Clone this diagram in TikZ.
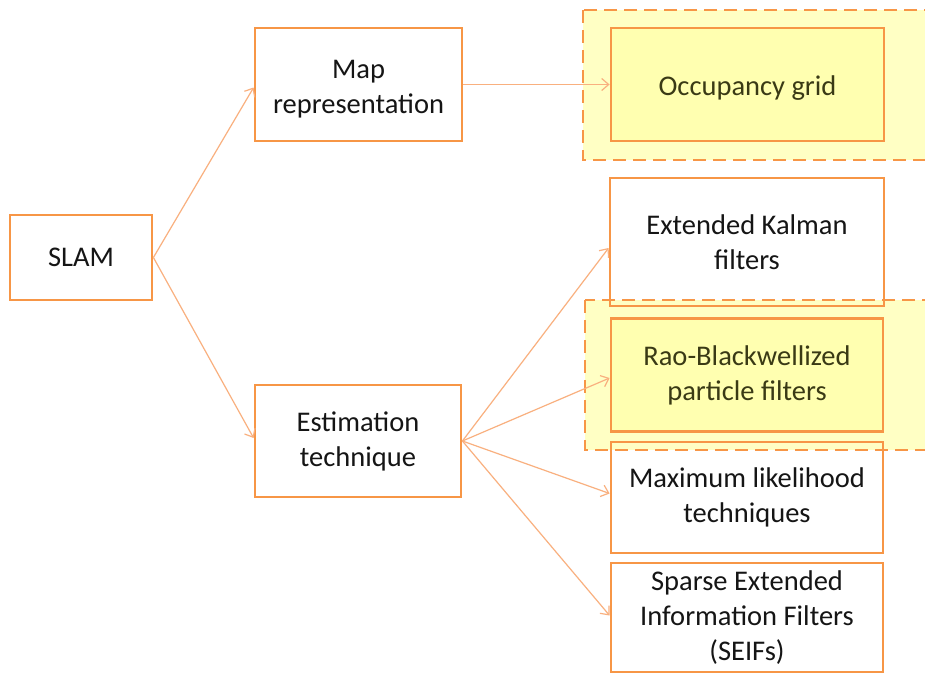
\documentclass[tikz,border=0pt]{standalone}
\usepackage{fontspec}
\setmainfont{Carlito}
\usetikzlibrary{arrows.meta}
\definecolor{boxorange}{HTML}{F79646}
\definecolor{arroworange}{HTML}{F9B07F}
\definecolor{hlyellow}{HTML}{FFFFC4}
\definecolor{inyellow}{HTML}{FFFFB0}
\definecolor{txt}{HTML}{151515}
\definecolor{hltxt}{HTML}{3A3A15}
\newcommand\lowered[1]{\raisebox{-4pt}[\height][\depth]{\begin{tabular}{@{}c@{}}#1\end{tabular}}}
\tikzset{
  box/.style={draw=boxorange, line width=2.8pt, rectangle, inner sep=0pt, align=center,
    text=txt, font=\fontsize{28.5}{35}\selectfont},
  hlbox/.style={box, fill=inyellow, text=hltxt},
  region/.style={fill=hlyellow, draw=boxorange, line width=2.6pt, dash pattern=on 13pt off 7pt},
  conn/.style={draw=arroworange, line width=1.2pt, -{Straight Barb[length=7pt,width=12pt]}}
}
\begin{document}
\begin{tikzpicture}[x=1pt,y=-1pt]
\useasboundingbox (0,0) rectangle (925,675);
\begin{scope}
\clip (0,0) rectangle (925,675);
\fill[white] (0,0) rectangle (925,675);
% highlighted regions
\path[region] (583,10) rectangle (950,160);
\path[region] (585,300) rectangle (950,450);
% nodes
\node[box, minimum width=142pt, minimum height=85pt] (slam) at (81,257.5) {SLAM};
\node[box, minimum width=207pt, minimum height=113pt] (map) at (358.5,84.5) {\lowered{Map\\representation}};
\node[box, minimum width=206pt, minimum height=112pt] (est) at (358,441) {Estimation\\technique};
\node[hlbox, minimum width=273pt, minimum height=113pt] (occ) at (747.5,84.5) {\lowered{Occupancy grid}};
\node[box, minimum width=274pt, minimum height=128pt] (ekf) at (747,242) {Extended Kalman\\filters};
\node[hlbox, minimum width=272pt, minimum height=113pt] (rao) at (747,375) {Rao-Blackwellized\\particle filters};
\node[box, minimum width=272pt, minimum height=111pt] (ml) at (747,497.5) {Maximum likelihood\\techniques};
\node[box, minimum width=272pt, minimum height=109pt] (seif) at (747,617.5) {Sparse Extended\\Information Filters\\(SEIFs)};
% connectors
\draw[conn] (slam.east) -- ([yshift=-3pt]map.west);
\draw[conn] (slam.east) -- ([yshift=3pt]est.west);
\draw[conn] (map.east) -- (occ.west);
\draw[conn] (est.east) -- ([yshift=-6pt]ekf.west);
\draw[conn] (est.east) -- ([yshift=-3pt]rao.west);
\draw[conn] (est.east) -- ([yshift=4pt]ml.west);
\draw[conn] (est.east) -- ([yshift=2pt]seif.west);
\end{scope}
\end{tikzpicture}
\end{document}
